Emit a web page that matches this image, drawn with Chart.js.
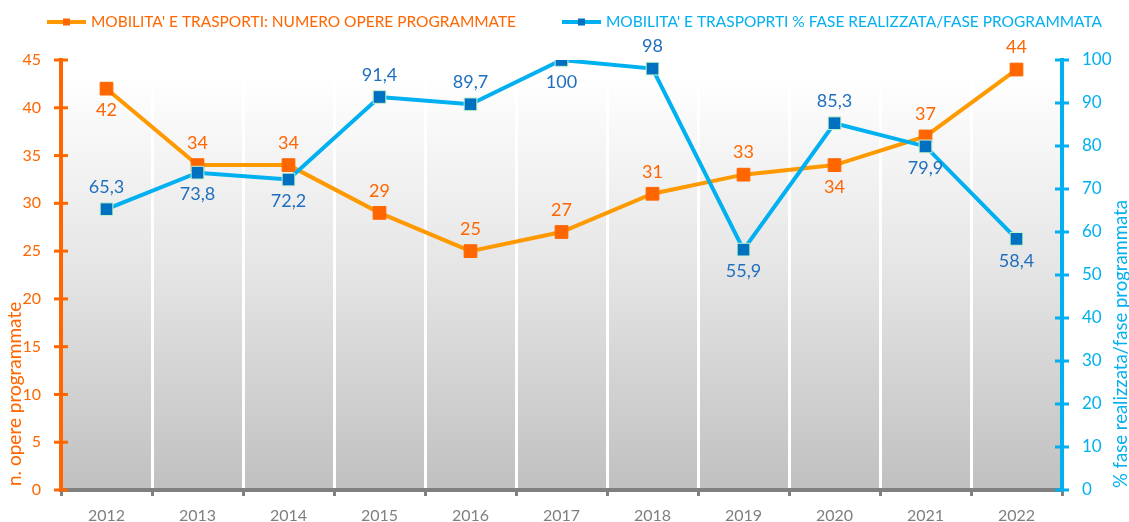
<!DOCTYPE html>
<html>
<head>
<meta charset="utf-8">
<script src="https://cdn.jsdelivr.net/npm/chart.js@4"></script>
<style>
  html, body { margin: 0; padding: 0; background: #fff; }
  #wrap { width: 1129px; height: 522px; }
</style>
</head>
<body>
<div id="wrap"><canvas id="chart"></canvas></div>
<script>
// categories and series
const years = ["2012", "2013", "2014", "2015", "2016", "2017", "2018", "2019", "2020", "2021", "2022"];
const opereProgrammate = [42, 34, 34, 29, 25, 27, 31, 33, 34, 37, 44];
const percFaseRealizzata = [65.3, 73.8, 72.2, 91.4, 89.7, 100, 98, 55.9, 85.3, 79.9, 58.4];

// where each value label sits (1 = above the point, -1 = below)
const opereLabelSide = [-1, 1, 1, 1, 1, 1, 1, 1, -1, 1, 1];
const percLabelSide = [1, -1, -1, 1, 1, -1, 1, -1, 1, -1, -1];

const FONT = "Lato, 'Open Sans', sans-serif";
const ORANGE = "#FF6600";
const ORANGE_LINE = "#FF9900";
const BLUE = "#00B0F0";
const BLUE_MARK = "#0070C0";

const fmt = v => String(v).replace(".", ",");

// gradient behind the plot area
const plotBackground = {
    id: "plotBackground",
    beforeDraw(chart) {
        const { ctx, chartArea: a } = chart;
        const g = ctx.createLinearGradient(0, a.top + 15, 0, a.bottom);
        g.addColorStop(0, "#ffffff");
        g.addColorStop(0.45, "#e6e6e6");
        g.addColorStop(1, "#c0c0c0");
        ctx.save();
        ctx.fillStyle = g;
        ctx.fillRect(a.left, a.top + 15, a.right - a.left, a.bottom - a.top - 15);
        ctx.restore();
    }
};

// value labels, axis tick crosses, axis titles and legend
const decorations = {
    id: "decorations",
    afterDatasetsDraw(chart) {
        const { ctx } = chart;
        ctx.save();
        ctx.font = "18px " + FONT;
        ctx.textAlign = "center";
        ctx.textBaseline = "middle";
        chart.data.datasets.forEach((ds, i) => {
            const meta = chart.getDatasetMeta(i);
            meta.data.forEach((pt, j) => {
                const side = ds.labelSide[j];
                ctx.fillStyle = ds.labelColor;
                ctx.fillText(fmt(ds.data[j]), pt.x, pt.y - side * 22);
            });
        });
        ctx.restore();
    },
    afterDraw(chart) {
        const { ctx, chartArea: a } = chart;
        ctx.save();

        // crossing tick marks on the two value axes
        [["y", ORANGE, a.left], ["y1", BLUE, a.right]].forEach(([id, col, x]) => {
            const sc = chart.scales[id];
            ctx.strokeStyle = col;
            ctx.lineWidth = 3;
            sc.ticks.forEach(t => {
                const y = sc.getPixelForValue(t.value);
                ctx.beginPath();
                ctx.moveTo(x - 7, y);
                ctx.lineTo(x + 7, y);
                ctx.stroke();
            });
        });

        // axis titles, read bottom to top
        ctx.font = "19px " + FONT;
        ctx.textBaseline = "middle";
        ctx.textAlign = "left";
        ctx.fillStyle = ORANGE;
        ctx.save();
        ctx.translate(15, a.bottom - 4);
        ctx.rotate(-Math.PI / 2);
        ctx.fillText("n. opere programmate", 0, 0);
        ctx.restore();
        ctx.fillStyle = BLUE;
        ctx.save();
        ctx.translate(1121, a.bottom - 2);
        ctx.rotate(-Math.PI / 2);
        ctx.fillText("% fase realizzata/fase programmata", 0, 0, 288);
        ctx.restore();

        // legend
        const items = [
            { x: 47, text: "MOBILITA' E TRASPORTI: NUMERO OPERE PROGRAMMATE", w: 425, line: ORANGE_LINE, mark: ORANGE, color: ORANGE },
            { x: 562, text: "MOBILITA' E TRASPOPRTI % FASE REALIZZATA/FASE PROGRAMMATA", w: 496, line: BLUE, mark: BLUE_MARK, color: BLUE }
        ];
        ctx.font = "16px " + FONT;
        items.forEach(it => {
            const y = 22;
            ctx.strokeStyle = it.line;
            ctx.lineWidth = 4;
            ctx.beginPath();
            ctx.moveTo(it.x, y);
            ctx.lineTo(it.x + 39, y);
            ctx.stroke();
            ctx.fillStyle = it.mark;
            ctx.fillRect(it.x + 16, y - 3.5, 7, 7);
            ctx.fillStyle = it.color;
            ctx.fillText(it.text, it.x + 44, y, it.w);
        });
        ctx.restore();
    }
};

new Chart(document.getElementById("chart"), {
    type: "line",
    data: {
        labels: years,
        datasets: [
            {
                label: "MOBILITA' E TRASPOPRTI % FASE REALIZZATA/FASE PROGRAMMATA",
                data: percFaseRealizzata,
                yAxisID: "y1",
                order: 0,
                borderColor: BLUE,
                borderWidth: 4,
                pointStyle: "rect",
                pointRadius: 9,
                pointHoverRadius: 9,
                pointBackgroundColor: BLUE_MARK,
                pointBorderColor: "#C8F5CC",
                pointBorderWidth: 1,
                tension: 0,
                labelSide: percLabelSide,
                labelColor: "#1F6FBF",
            },
            {
                label: "MOBILITA' E TRASPORTI: NUMERO OPERE PROGRAMMATE",
                data: opereProgrammate,
                yAxisID: "y",
                order: 1,
                borderColor: ORANGE_LINE,
                borderWidth: 4,
                pointStyle: "rect",
                pointRadius: 9,
                pointHoverRadius: 9,
                pointBackgroundColor: ORANGE,
                pointBorderColor: ORANGE,
                pointBorderWidth: 1,
                tension: 0,
                labelSide: opereLabelSide,
                labelColor: ORANGE,
            },
        ],
    },
    options: {
        responsive: true,
        maintainAspectRatio: false,
        animation: false,
        events: [],
        layout: { padding: { top: 60, left: 0, right: 0, bottom: 0 } },
        plugins: {
            legend: { display: false },
            tooltip: { enabled: false },
        },
        scales: {
            x: {
                offset: true,
                grid: {
                    offset: true,
                    color: c => (c.index > 0 && c.index < years.length) ? "#ffffff" : "rgba(0,0,0,0)",
                    lineWidth: 3,
                    tickColor: "#808080",
                    tickWidth: 3,
                    tickLength: 6,
                },
                border: { color: "#808080", width: 4 },
                ticks: { color: "#7f7f7f", font: { family: FONT, size: 16 }, padding: 10, maxRotation: 0 },
                afterFit: s => { s.height = 32; },
            },
            y: {
                position: "left",
                min: 0,
                max: 45,
                ticks: { stepSize: 5, color: ORANGE, font: { family: FONT, size: 16 }, padding: 20 },
                grid: { display: false, drawTicks: false },
                border: { color: ORANGE, width: 4 },
                afterFit: s => { s.width = 61; },
            },
            y1: {
                position: "right",
                min: 0,
                max: 100,
                ticks: { stepSize: 10, color: BLUE, font: { family: FONT, size: 17 }, padding: 20 },
                grid: { display: false, drawTicks: false },
                border: { color: BLUE, width: 4 },
                afterFit: s => { s.width = 67; },
            },
        },
    },
    plugins: [plotBackground, decorations],
});
</script>
</body>
</html>
